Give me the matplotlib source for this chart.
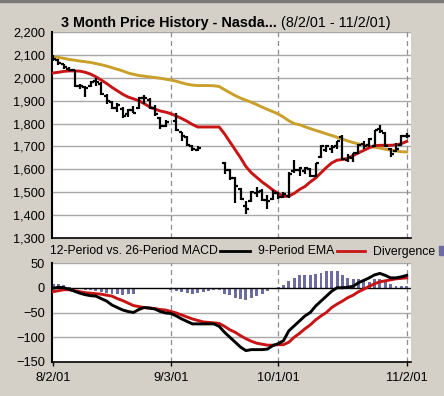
import numpy as np
import pandas as pd
import matplotlib
matplotlib.use('Agg')
import matplotlib.pyplot as plt
from matplotlib.patches import Rectangle

plt.rcParams['font.family'] = ['Liberation Sans', 'DejaVu Sans']

# weekday slots 8/2/01 .. 11/2/01, market closed on some of them
days = pd.bdate_range('2001-08-02', '2001-11-02')
closed = ['2001-09-03', '2001-09-11', '2001-09-12', '2001-09-13', '2001-09-14']

nan = np.nan
opens = [2095, 2078, 2060, 2040, 2032, 1962, 1960, 1965, 1985, 1975, 1920, 1895, 1870, 1865,
         1840, 1860, 1868, 1910, 1905, 1870, 1825, 1790, nan, 1810, 1762, 1740, 1700, 1683,
         nan, nan, nan, nan, 1628, 1598, 1560, 1515, 1440, 1460, 1495, 1505, 1468, 1470,
         1495, 1480, 1485, 1592, 1595, 1592, 1600, 1570, 1655, 1685, 1690, 1700, 1740, 1640,
         1650, 1670, 1712, 1705, 1700, 1775, 1760, 1690, 1680, 1705, 1745]
highs = [2100, 2080, 2062, 2045, 2035, 1975, 1965, 1985, 2000, 1980, 1930, 1898, 1888, 1872,
         1862, 1875, 1918, 1925, 1910, 1880, 1830, 1815, nan, 1845, 1765, 1745, 1708, 1700,
         nan, nan, nan, nan, 1630, 1602, 1568, 1520, 1460, 1505, 1525, 1512, 1490, 1510,
         1500, 1500, 1590, 1640, 1612, 1610, 1605, 1628, 1705, 1705, 1705, 1722, 1752, 1665,
         1672, 1712, 1722, 1735, 1770, 1792, 1765, 1695, 1715, 1750, 1758]
lows = [2072, 2055, 2040, 2028, 1960, 1950, 1915, 1960, 1965, 1925, 1885, 1865, 1852, 1825,
        1830, 1845, 1865, 1885, 1862, 1835, 1778, 1785, nan, 1768, 1722, 1700, 1680, 1680,
        nan, nan, nan, nan, 1580, 1552, 1452, 1465, 1405, 1458, 1478, 1460, 1425, 1465,
        1470, 1475, 1475, 1582, 1572, 1578, 1565, 1565, 1650, 1675, 1672, 1688, 1640, 1630,
        1632, 1668, 1690, 1698, 1698, 1760, 1698, 1655, 1675, 1700, 1735]
closes = [2080, 2066, 2045, 2035, 1966, 1963, 1956, 1982, 1982, 1930, 1900, 1868, 1880, 1831,
          1860, 1848, 1910, 1912, 1866, 1842, 1790, 1805, nan, 1772, 1745, 1706, 1688, 1695,
          nan, nan, nan, nan, 1598, 1560, 1528, 1470, 1425, 1500, 1502, 1465, 1462, 1498,
          1480, 1492, 1580, 1598, 1605, 1605, 1570, 1626, 1701, 1703, 1696, 1722, 1646, 1652,
          1671, 1708, 1704, 1731, 1770, 1768, 1700, 1667, 1690, 1746, 1745]

ma_short = [2021, 2024, 2028, 2030, 2030, 2029, 2024, 2016, 2004, 1990, 1975, 1958, 1943, 1928,
            1916, 1908, 1900, 1887, 1873, 1863, 1855, 1850, 1843, 1833, 1822, 1810, 1796, 1785,
            1785, 1785, 1785, 1785, 1755, 1720, 1685, 1650, 1612, 1585, 1565, 1545, 1528, 1510,
            1495, 1482, 1483, 1495, 1512, 1525, 1545, 1562, 1585, 1608, 1628, 1640, 1643, 1648,
            1660, 1672, 1683, 1694, 1703, 1705, 1705, 1705, 1707, 1712, 1722]
ma_long = [2092, 2089, 2085, 2080, 2077, 2073, 2070, 2067, 2062, 2057, 2051, 2044, 2037, 2030,
           2021, 2015, 2010, 2007, 2004, 2001, 1998, 1994, 1990, 1985, 1978, 1972, 1968, 1966,
           1966, 1966, 1965, 1962, 1948, 1935, 1922, 1911, 1902, 1893, 1883, 1872, 1862, 1852,
           1842, 1828, 1812, 1800, 1795, 1786, 1778, 1770, 1763, 1755, 1748, 1740, 1732, 1724,
           1717, 1711, 1706, 1702, 1697, 1693, 1688, 1684, 1680, 1677, 1676]

macd = [-1, 1, 0, -3, -7, -11, -14, -16, -17, -22, -27, -35, -40, -45, -48, -50, -44, -40,
        -41, -43, -48, -51, -52, -57, -63, -68, -73, -73, -73, -73, -73, -78, -90, -100, -110,
        -120, -127, -125, -125, -125, -124, -117, -113, -107, -87, -77, -67, -57, -50, -37,
        -27, -17, -7, 0, 0, 1, 3, 10, 15, 20, 26, 29, 25, 20, 20, 22, 25]
ema9 = [-8, -6, -4, -4, -6, -8, -10, -11, -12, -13, -15, -17, -22, -26, -31, -36, -38, -40,
        -41, -42, -44, -45, -48, -51, -55, -59, -63, -66, -69, -70, -71, -72, -78, -85, -90,
        -97, -103, -108, -112, -114, -116, -116, -115, -115, -110, -100, -92, -83, -75, -65,
        -57, -50, -40, -33, -27, -20, -15, -8, -3, 3, 8, 12, 14, 16, 18, 19, 20]
divergence = [8, 8, 5, 2, -2, -3, -5, -5, -6, -8, -10, -12, -13, -14, -13, -12, -3, 0, -1,
              -3, -3, -3, -4, -6, -8, -10, -12, -10, -8, -7, -5, -5, -12, -15, -20, -22, -25,
              -20, -17, -12, -7, -2, 2, 5, 13, 20, 25, 25, 25, 27, 30, 33, 33, 33, 25, 20, 18,
              17, 15, 12, 17, 17, 12, 7, 3, 3, 3]

tick_dates = ['2001-08-02', '2001-09-03', '2001-10-01', '2001-11-02']
tick_labels = ['8/2/01', '9/3/01', '10/1/01', '11/2/01']
price_ticks = [1300, 1400, 1500, 1600, 1700, 1800, 1900, 2000, 2100, 2200]
macd_ticks = [-150, -100, -50, 0, 50]

BG = '#d4d0c8'
RED = '#c81414'
GOLD = '#caa02a'
PURPLE = '#6c6ca0'
GRID = '#a8a8a8'

x = np.arange(len(days))
is_open = ~days.isin(pd.to_datetime(closed))
tick_pos = [days.get_loc(pd.Timestamp(d)) for d in tick_dates]

fig = plt.figure(figsize=(4.44, 3.96), dpi=100, facecolor=BG)
fig.add_artist(Rectangle((0, 0.994), 1, 0.006, transform=fig.transFigure, color='#7a7a7a'))

W, H = 444.0, 396.0
ax = fig.add_axes([52 / W, 1 - 238 / H, 359 / W, 206 / H])
ax2 = fig.add_axes([52 / W, 1 - 362 / H, 359 / W, 99 / H])

xlim = (-0.2, 66.8)

# ---- price panel
o = np.array(opens, float)[is_open]
h = np.array(highs, float)[is_open]
l = np.array(lows, float)[is_open]
c = np.array(closes, float)[is_open]
xo = x[is_open]
ax.set_facecolor('white')
for yv in price_ticks[1:]:
    ax.axhline(yv, color=GRID, lw=1, zorder=1)
for p in tick_pos[1:]:
    ax.axvline(p, color='#8c8c8c', lw=0.9, ls=(0, (4, 3)), zorder=1)
ax.plot(x, ma_long, color=GOLD, lw=2.1, zorder=3)
ax.plot(x, ma_short, color=RED, lw=2.1, zorder=3)
ax.vlines(xo, l, h, color='black', lw=1.6, zorder=4)
ax.hlines(o, xo - 0.55, xo, color='black', lw=1.6, zorder=4)
ax.hlines(c, xo, xo + 0.55, color='black', lw=1.6, zorder=4)
ax.set_xlim(*xlim)
ax.set_ylim(1300, 2200)
ax.set_yticks(price_ticks)
ax.set_yticklabels(['{:,}'.format(v) for v in price_ticks])
ax.set_xticks([])
for s in ['top', 'right']:
    ax.spines[s].set_visible(False)
ax.spines['left'].set_linewidth(1.5)
ax.spines['bottom'].set_linewidth(1.2)
ax.tick_params(axis='y', length=0, pad=5, labelsize=9.2)

# ---- MACD panel
ax2.set_facecolor('white')
for yv in [-100, -50, 50]:
    ax2.axhline(yv, color=GRID, lw=1, zorder=1)
for p in tick_pos[1:]:
    ax2.axvline(p, color='#8c8c8c', lw=0.9, ls=(0, (4, 3)), zorder=1)
ax2.bar(x, divergence, width=0.55, color=PURPLE, zorder=2)
ax2.axhline(0, color='black', lw=1, zorder=2)
ax2.plot(x, ema9, color=RED, lw=2.1, zorder=3)
ax2.plot(x, macd, color='black', lw=2.1, zorder=4)
ax2.set_xlim(*xlim)
ax2.set_ylim(-150, 50)
ax2.set_yticks(macd_ticks)
ax2.set_xticks(tick_pos)
ax2.set_xticklabels(tick_labels)
for s in ['top', 'right']:
    ax2.spines[s].set_visible(False)
ax2.spines['left'].set_linewidth(1.5)
ax2.spines['bottom'].set_linewidth(1.2)
ax2.tick_params(axis='y', length=0, pad=5, labelsize=9.2)
ax2.tick_params(axis='x', length=3, width=1, pad=4, labelsize=9.2)

# ---- title
fig.text(61 / W, 1 - 26.5 / H, '3 Month Price History - Nasda...', fontsize=10.4,
         fontweight='bold', ha='left', va='baseline')
fig.text(281 / W, 1 - 26.5 / H, '(8/2/01 - 11/2/01)', fontsize=10.4,
         ha='left', va='baseline')

# ---- legend row
ly = 1 - 254.5 / H
fig.text(50 / W, ly, '12-Period vs. 26-Period MACD', fontsize=8.8, ha='left', va='baseline')
fig.add_artist(plt.Line2D([220 / W, 250 / W], [1 - 251 / H] * 2, color='black', lw=2))
fig.text(258 / W, ly, '9-Period EMA', fontsize=8.8, ha='left', va='baseline')
fig.add_artist(plt.Line2D([337 / W, 365 / W], [1 - 251 / H] * 2, color=RED, lw=2))
fig.text(373 / W, ly, 'Divergence', fontsize=8.8, ha='left', va='baseline')
fig.add_artist(Rectangle((439 / W, 1 - 255 / H), 6 / W, 9 / H, transform=fig.transFigure,
                         color=PURPLE))

fig.savefig('out.png', dpi=100, facecolor=BG)
